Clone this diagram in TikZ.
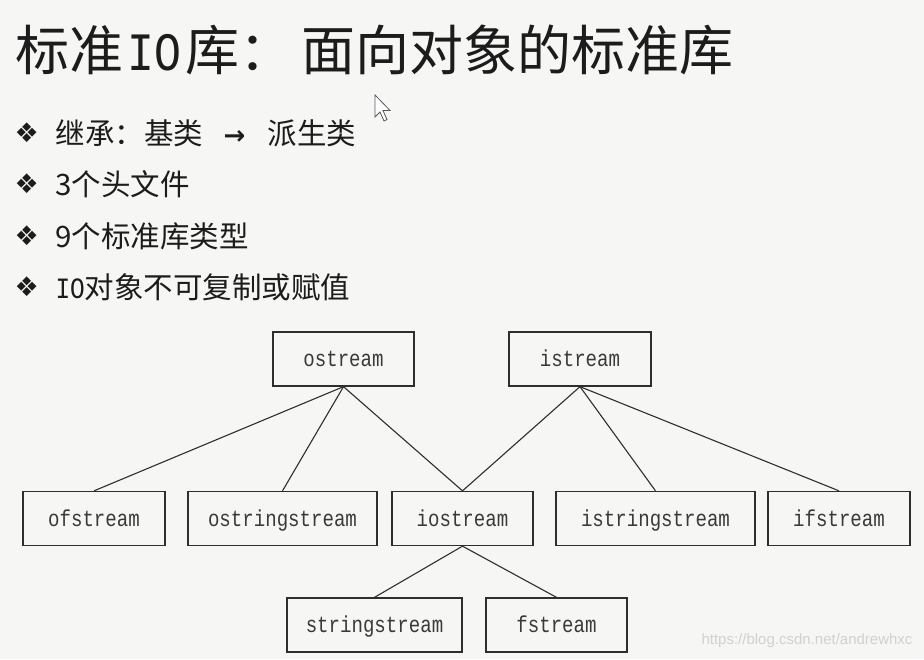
\documentclass[tikz,border=0pt]{standalone}
\usepackage{fontspec}
\setmainfont{Noto Sans CJK SC}
\newfontfamily\symfont{DejaVu Sans}
\newfontfamily\monofont{Liberation Mono}[FakeStretch=0.83]
\newfontfamily\urlfont{Liberation Sans}
\definecolor{bgpage}{HTML}{F6F6F4}
\definecolor{inkdark}{HTML}{1C1C1C}
\definecolor{boxline}{HTML}{2E2E2E}
\definecolor{boxtext}{HTML}{3A3A3A}
\tikzset{
  classbox/.style={draw=boxline, line width=1.3pt, fill=bgpage, text=boxtext,
    minimum height=54pt, inner sep=0pt, text height=15pt, text depth=0pt,
    font=\monofont\fontsize{23}{26}\selectfont},
  inherit/.style={draw=boxline, line width=1.1pt},
  bulletmark/.style={anchor=west, text=inkdark, font=\symfont\fontsize{27}{30}\selectfont},
  itemtext/.style={anchor=west, text=inkdark, font=\fontsize{29.5}{32}\selectfont}
}
\begin{document}
\begin{tikzpicture}[x=1pt,y=-1pt]
\useasboundingbox[fill=bgpage] (0,0) rectangle (924,659);
% title and list
\node[anchor=base west, text=inkdark, inner sep=0pt] (title) at (15,70)
    {\fontsize{54}{60}\selectfont 标准\hspace{4pt}{\monofont IO}\hspace{5pt}库：\hspace{8pt}面向对象的标准库};
\foreach \i/\y in {1/133, 2/184, 3/236, 4/287}
    \node[bulletmark] (dot\i) at (11,\y) {❖};
\node[itemtext] (item1) at (52,133)
    {继承：基类\hspace{0.7em}{\symfont\bfseries\fontsize{26}{30}\selectfont →}\hspace{0.75em}派生类};
\node[itemtext] (item2) at (52,184) {3个头文件};
\node[itemtext] (item3) at (52,236) {9个标准库类型};
\node[itemtext] (item4) at (52,287) {{\monofont IO}对象不可复制或赋值};
% class hierarchy
\node[classbox, minimum width=141pt] (ostream) at (343.5,359) {ostream};
\node[classbox, minimum width=142pt] (istream) at (580,359) {istream};
\node[classbox, minimum width=142pt] (ofstream) at (94,518.5) {ofstream};
\node[classbox, minimum width=189pt] (ostringstream) at (282.5,518.5) {ostringstream};
\node[classbox, minimum width=141pt] (iostream) at (462.5,518.5) {iostream};
\node[classbox, minimum width=199pt] (istringstream) at (655.5,518.5) {istringstream};
\node[classbox, minimum width=142pt] (ifstream) at (839,518.5) {ifstream};
\node[classbox, minimum width=175pt] (stringstream) at (374.5,625) {stringstream};
\node[classbox, minimum width=141pt] (fstream) at (556.5,625) {fstream};
\foreach \kid in {ofstream, ostringstream, iostream}
    \draw[inherit] (ostream.south) -- (\kid.north);
\foreach \kid in {iostream, istringstream, ifstream}
    \draw[inherit] (istream.south) -- (\kid.north);
\foreach \kid in {stringstream, fstream}
    \draw[inherit] (iostream.south) -- (\kid.north);
% mouse pointer and watermark
\draw[fill=white, draw=gray!70!black, line width=0.8pt] (375,95) -- ++(0,22) -- ++(5,-5)
    -- ++(4,9) -- ++(3,-1.5) -- ++(-4,-9) -- ++(7,0) -- cycle;
\node[anchor=east, text=black!18, font=\urlfont\fontsize{15}{18}\selectfont] (mark) at (916,641)
    {https://blog.csdn.net/andrewhxc};
\end{tikzpicture}
\end{document}
